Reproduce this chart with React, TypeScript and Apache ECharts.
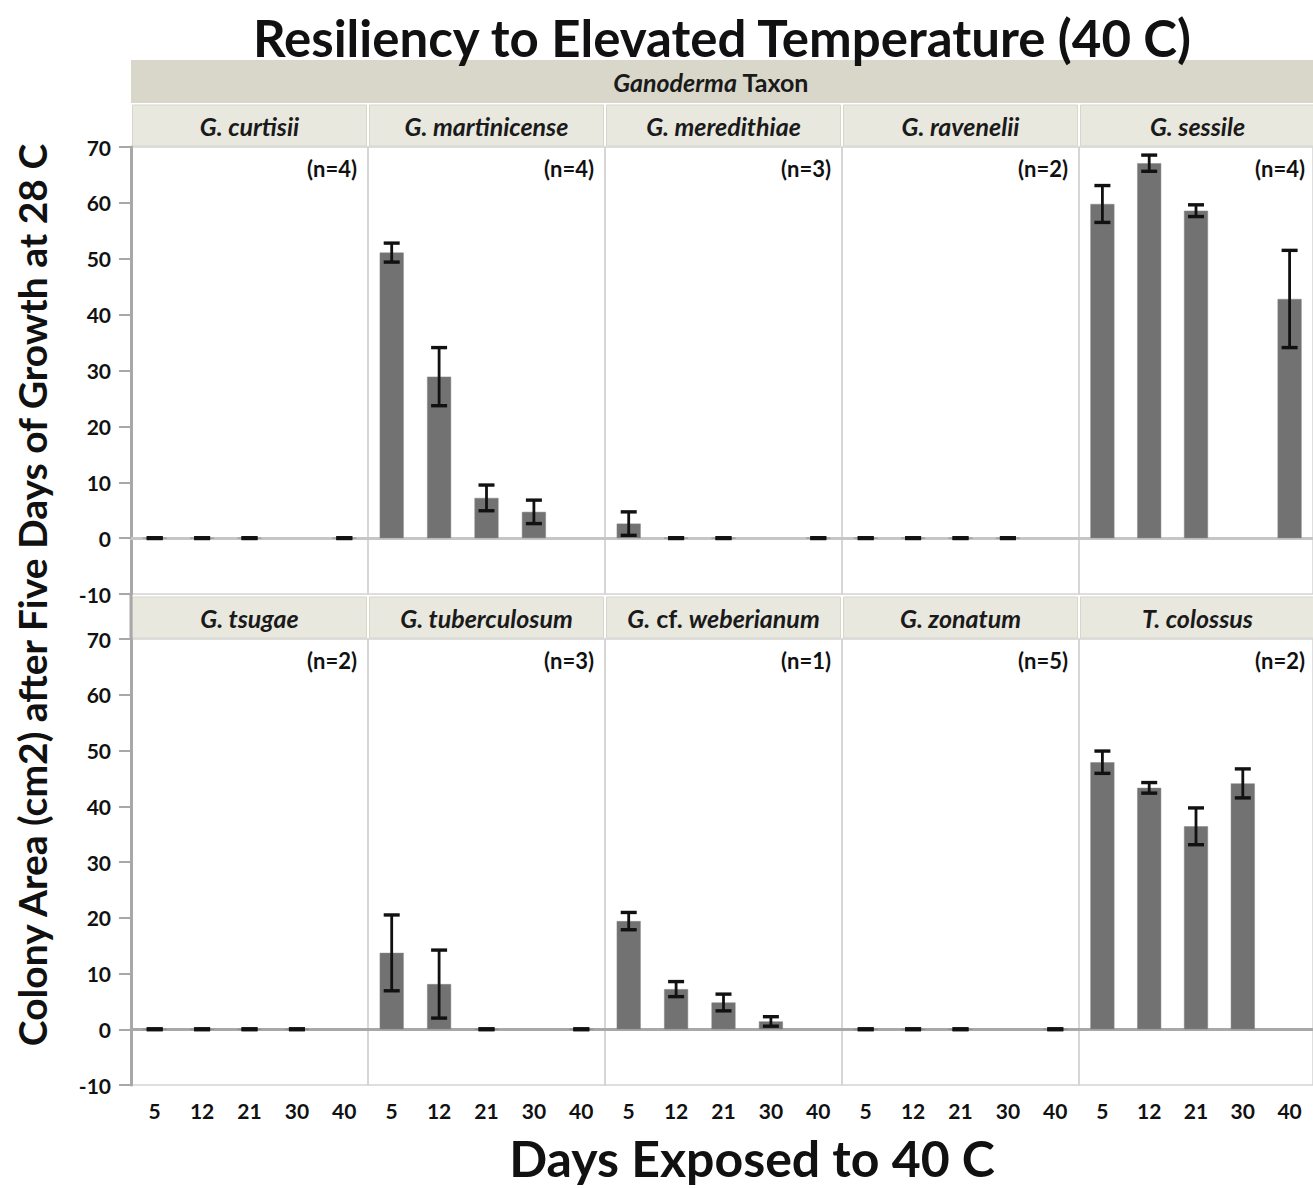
import React, { useEffect, useRef } from "react";
import * as echarts from "echarts";

// ---------- data ----------
const days = ["5", "12", "21", "30", "40"];
const yTicks = { min: -10, max: 70, step: 10 };

const taxa = [
  "G. curtisii",
  "G. martinicense",
  "G. meredithiae",
  "G. ravenelii",
  "G. sessile",
  "G. tsugae",
  "G. tuberculosum",
  "G. cf. weberianum",
  "G. zonatum",
  "T. colossus",
];
const sampleSizes = [4, 4, 3, 2, 4, 2, 3, 1, 5, 2];

const curtisiiMean = [0, 0, 0, null, 0];
const curtisiiErr = [0, 0, 0, null, 0];
const martinicenseMean = [51.1, 28.9, 7.2, 4.7, null];
const martinicenseErr = [1.7, 5.2, 2.3, 2.1, null];
const meredithiaeMean = [2.6, 0, 0, null, 0];
const meredithiaeErr = [2.1, 0, 0, null, 0];
const raveneliiMean = [0, 0, 0, 0, null];
const raveneliiErr = [0, 0, 0, 0, null];
const sessileMean = [59.8, 67.1, 58.6, null, 42.8];
const sessileErr = [3.3, 1.45, 1.05, null, 8.7];
const tsugaeMean = [0, 0, 0, 0, null];
const tsugaeErr = [0, 0, 0, 0, null];
const tuberculosumMean = [13.7, 8.1, 0, null, 0];
const tuberculosumErr = [6.8, 6.1, 0, null, 0];
const weberianumMean = [19.4, 7.2, 4.8, 1.4, null];
const weberianumErr = [1.55, 1.35, 1.5, 0.85, null];
const zonatumMean = [0, 0, 0, null, 0];
const zonatumErr = [0, 0, 0, null, 0];
const colossusMean = [47.9, 43.3, 36.4, 44.1, null];
const colossusErr = [2.0, 0.95, 3.3, 2.6, null];

const allMeans = [
  curtisiiMean, martinicenseMean, meredithiaeMean, raveneliiMean, sessileMean,
  tsugaeMean, tuberculosumMean, weberianumMean, zonatumMean, colossusMean,
];
const allErrs = [
  curtisiiErr, martinicenseErr, meredithiaeErr, raveneliiErr, sessileErr,
  tsugaeErr, tuberculosumErr, weberianumErr, zonatumErr, colossusErr,
];

const titleText = "Resiliency to Elevated Temperature (40 C)";
const xTitle = "Days Exposed to 40 C";
const yTitle = "Colony Area (cm2) after Five Days of Growth at 28 C";

// ---------- layout ----------
const FONT = 'Lato, "Open Sans", sans-serif';
const PLOT_LEFT = 131;
const PANEL_W = 237;
const ROW_TOPS = [147, 639];
const PLOT_H = 447;
const HEADER_H = 41;

function headerRich(name: string) {
  if (name.includes(" cf. ")) {
    const [g, rest] = name.split(" cf. ");
    return `{i|${g}}{n| cf. }{i|${rest}}`;
  }
  return `{i|${name}}`;
}

export default function App() {
  const ref = useRef<HTMLDivElement>(null);
  useEffect(() => {
    if (!ref.current) return;
    const chart = echarts.init(ref.current, undefined, { renderer: "svg" });

    const grids: any[] = [];
    const xAxes: any[] = [];
    const yAxes: any[] = [];
    const series: any[] = [];
    const graphics: any[] = [];

    const richStyles = {
      i: { fontFamily: FONT, fontSize: 25, fontWeight: "bold", fontStyle: "italic", fill: "#1a1a1a" },
      n: { fontFamily: FONT, fontSize: 25, fontWeight: "bold", fontStyle: "normal", fill: "#1a1a1a" },
    };

    // Top strip
    graphics.push({
      type: "rect",
      shape: { x: PLOT_LEFT, y: 60, width: PANEL_W * 5, height: 43 },
      style: { fill: "#d8d7ca" },
    });
    graphics.push({
      type: "text",
      x: 711,
      y: 82,
      style: {
        text: "{i|Ganoderma}{n| Taxon}",
        rich: richStyles,
        align: "center",
        verticalAlign: "middle",
      },
    });

    taxa.forEach((name, i) => {
      const col = i % 5;
      const row = Math.floor(i / 5);
      const left = PLOT_LEFT + col * PANEL_W;
      const top = ROW_TOPS[row];
      grids.push({
        left,
        top,
        width: PANEL_W,
        height: PLOT_H - (row === 1 ? 1 : 0),
        show: true,
        borderColor: "#d4d4d4",
        borderWidth: 1.5,
        backgroundColor: "transparent",
      });
      xAxes.push({
        type: "category",
        gridIndex: i,
        data: days,
        axisTick: { show: false },
        axisLine: {
          show: true,
          lineStyle: { color: row === 1 ? "#a8a8a8" : "#c6c6c6", width: 3 },
        },
        axisLabel: {
          show: row === 1,
          fontFamily: FONT,
          fontWeight: "bold",
          fontSize: 21,
          color: "#111",
          margin: 15,
        },
      });
      yAxes.push({
        type: "value",
        gridIndex: i,
        min: yTicks.min,
        max: yTicks.max,
        interval: yTicks.step,
        splitLine: { show: false },
        axisLine: { show: col === 0, lineStyle: { color: "#a8a8a8", width: 3 } },
        axisTick: { show: col === 0, length: 12, lineStyle: { color: "#a8a8a8", width: 2 } },
        axisLabel: {
          show: col === 0,
          fontFamily: FONT,
          fontWeight: "bold",
          fontSize: 21,
          color: "#111",
          margin: 20,
        },
      });
      series.push({
        type: "bar",
        xAxisIndex: i,
        yAxisIndex: i,
        data: allMeans[i],
        barWidth: 24,
        itemStyle: { color: "#727272", borderColor: "#868686", borderWidth: 0.5 },
        silent: true,
      });
      const errData: any[] = [];
      allMeans[i].forEach((m, k) => {
        if (m !== null) errData.push([k, m, allErrs[i][k] ?? 0]);
      });
      series.push({
        type: "custom",
        xAxisIndex: i,
        yAxisIndex: i,
        data: errData,
        encode: { x: 0, y: 1 },
        silent: true,
        z: 5,
        renderItem: (params: any, api: any) => {
          const k = api.value(0);
          const m = api.value(1);
          const e = api.value(2);
          const hi = api.coord([k, m + e]);
          const lo = api.coord([k, m - e]);
          const cx = hi[0];
          const half = 8;
          const st = { stroke: "#111", lineWidth: 2.8 };
          const capSt = { stroke: "#111", lineWidth: e === 0 ? 4 : 3.4 };
          return {
            type: "group",
            children: [
              { type: "line", shape: { x1: cx, y1: hi[1], x2: cx, y2: lo[1] }, style: st },
              { type: "line", shape: { x1: cx - half, y1: hi[1], x2: cx + half, y2: hi[1] }, style: capSt },
              { type: "line", shape: { x1: cx - half, y1: lo[1], x2: cx + half, y2: lo[1] }, style: capSt },
            ],
          };
        },
      });

      // panel header
      const hTop = row === 0 ? 105 : 597;
      graphics.push({
        type: "rect",
        shape: { x: left + 1.5, y: hTop, width: PANEL_W - 3, height: HEADER_H },
        style: { fill: "#e9e8df", stroke: "#d7d6ca", lineWidth: 1 },
      });
      graphics.push({
        type: "text",
        x: left + PANEL_W / 2,
        y: hTop + HEADER_H / 2,
        style: {
          text: headerRich(name),
          rich: richStyles,
          align: "center",
          verticalAlign: "middle",
        },
      });
      // sample size
      graphics.push({
        type: "text",
        x: left + PANEL_W - 11,
        y: top + 21,
        style: {
          text: `(n=${sampleSizes[i]})`,
          fontFamily: FONT,
          fontSize: 22,
          fontWeight: "bold",
          fill: "#111",
          align: "right",
          verticalAlign: "middle",
        },
      });
    });

    // left axis continuation across row-2 header
    graphics.push({
      type: "line",
      shape: { x1: PLOT_LEFT, y1: ROW_TOPS[0] + PLOT_H, x2: PLOT_LEFT, y2: ROW_TOPS[1] },
      style: { stroke: "#a8a8a8", lineWidth: 3 },
    });

    graphics.push({
      type: "text",
      x: 722,
      y: 37,
      style: {
        text: titleText,
        fontFamily: FONT,
        fontSize: 51,
        fontWeight: "bold",
        fill: "#111",
        align: "center",
        verticalAlign: "middle",
      },
    });
    graphics.push({
      type: "text",
      x: 752,
      y: 1158,
      style: {
        text: xTitle,
        fontFamily: FONT,
        fontSize: 50,
        fontWeight: "bold",
        fill: "#111",
        align: "center",
        verticalAlign: "middle",
      },
    });
    graphics.push({
      type: "text",
      x: 32,
      y: 595,
      rotation: Math.PI / 2,
      style: {
        text: yTitle,
        fontFamily: FONT,
        fontSize: 39,
        fontWeight: "bold",
        fill: "#111",
        align: "center",
        verticalAlign: "middle",
      },
    });

    chart.setOption({
      animation: false,
      backgroundColor: "#ffffff",
      grid: grids,
      xAxis: xAxes,
      yAxis: yAxes,
      series,
      graphic: graphics,
    });
    return () => chart.dispose();
  }, []);

  return (
    <div
      ref={ref}
      style={{ position: "absolute", left: 0, top: 0, width: 1313, height: 1188 }}
    />
  );
}
